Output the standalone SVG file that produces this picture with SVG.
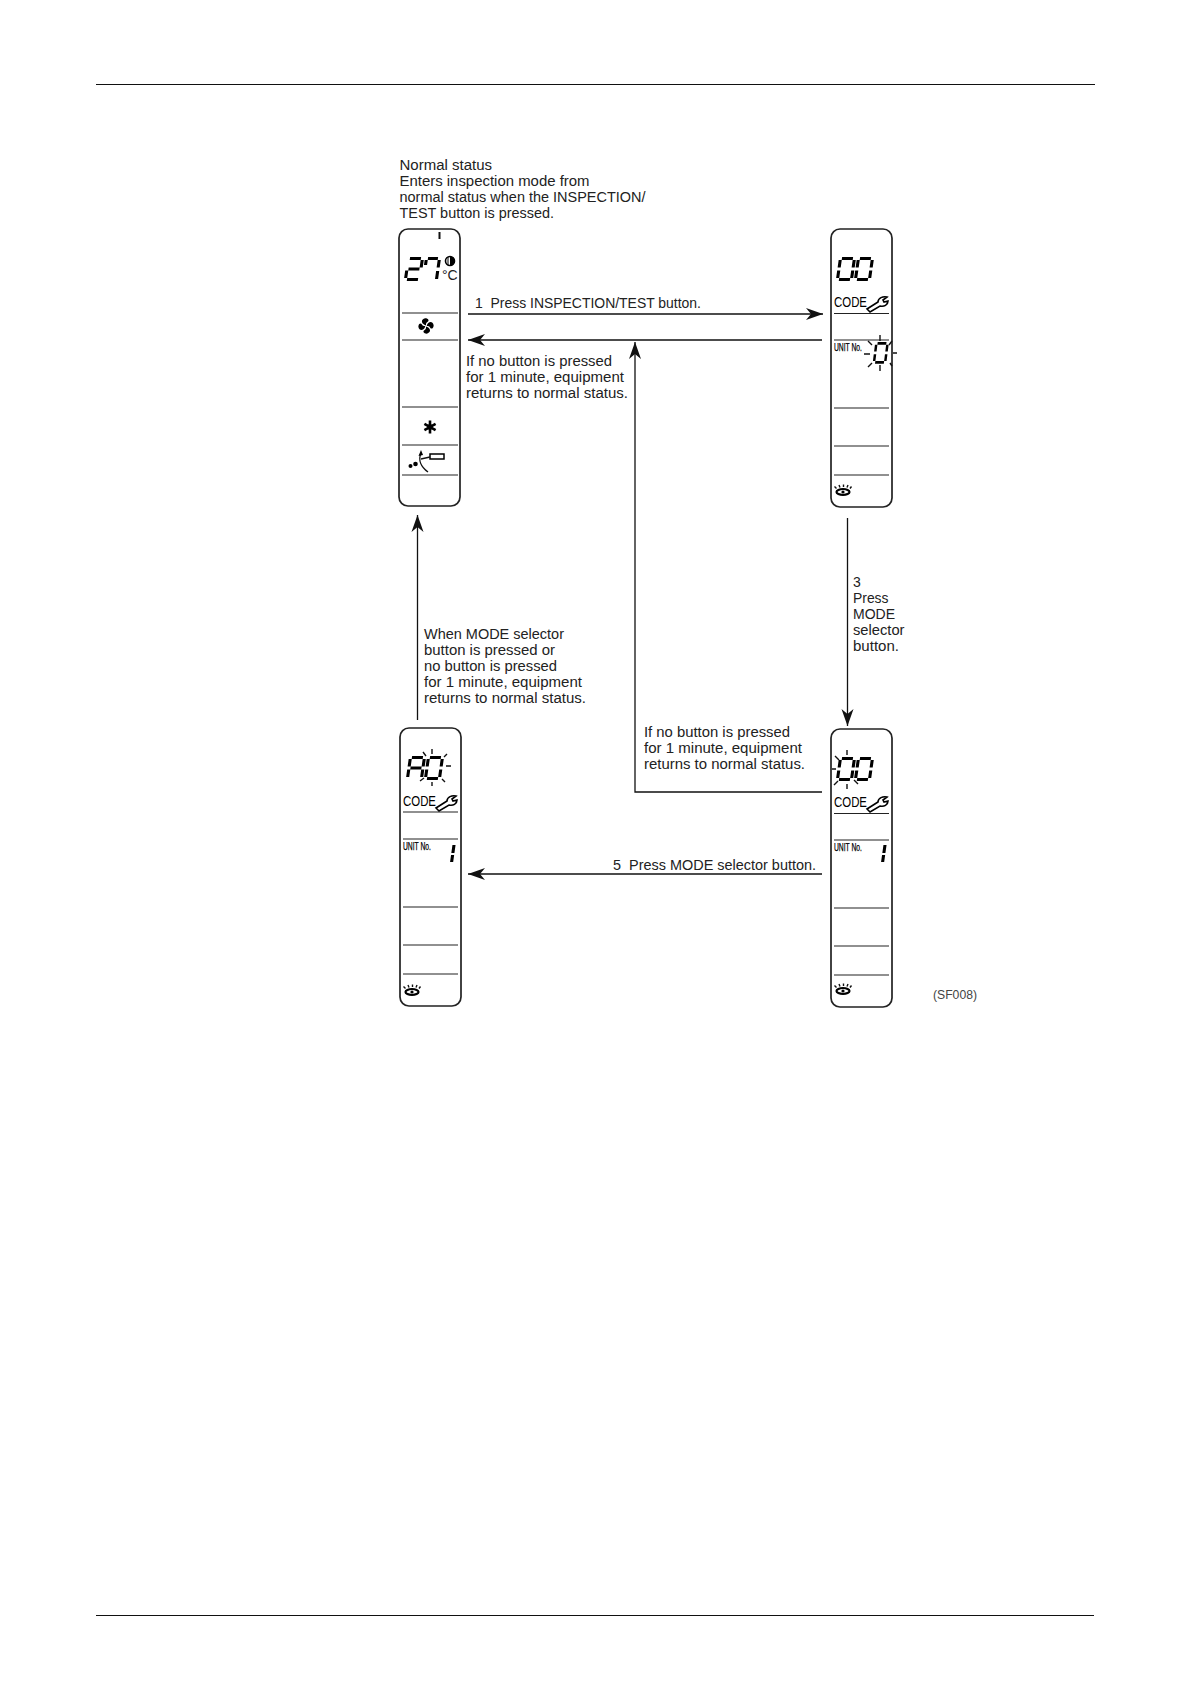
<svg xmlns="http://www.w3.org/2000/svg" xmlns:xlink="http://www.w3.org/1999/xlink" width="1190" height="1684" viewBox="0 0 1190 1684">
<style>
text{font-family:"Liberation Sans",Arial,sans-serif;font-size:14px;fill:#222}
.panel{fill:#fff;stroke:#222;stroke-width:1.7}
.div{stroke:#222;stroke-width:1.2;fill:none}
.conn{stroke:#111;stroke-width:1.3;fill:none}
.arrow{marker-end:url(#ah)}
.rule{stroke:#111;stroke-width:1.1}
.seg{stroke:#000;stroke-width:3.1;fill:none}
.ray{stroke:#111;stroke-width:1.4;fill:none}
.code{font-size:14.5px;fill:#000}
.unit{font-size:10px;fill:#000;stroke:#000;stroke-width:.25}
.ref{font-size:12.5px;fill:#444}
</style>
<defs>
<marker id="ah" markerUnits="userSpaceOnUse" markerWidth="20" markerHeight="14" refX="17" refY="6.500" orient="auto">
<path d="M0,0.500 L17,6.500 L0,12.500 L5,6.500 Z" fill="#111"/>
</marker>
<g id="d0" class="seg" transform="skewX(-8)">
<path d="M2,0.500H13M0.500,2V9.500M14.500,2V9.500M0.500,12.500V20M14.500,12.500V20M2,21.500H13"/>
</g>
<g id="wrench"><path d="M3,15 L0,12 L11,5 C11,1 16,-1 20,0 L16,3 L17,5 L21,4 C21,8 17,10 13,9 Z" fill="#fff" stroke="#000" stroke-width="1.600"/></g>
<g id="eye">
<ellipse cx="0" cy="0" rx="6.500" ry="3" fill="none" stroke="#000" stroke-width="2.200"/>
<circle cx="0" cy="0" r="1.600" fill="#000"/>
<path d="M-6.500,-3.500L-8.500,-5.500M-3,-4.500L-4,-7M0.500,-5V-7.500M4,-4.500L5,-7M7,-3.500L8.500,-5.500" class="ray" stroke-width="1"/>
</g>
<g id="one" class="seg" transform="skewX(-8)"><path d="M0,0V8M0,10V17"/></g>
</defs>

<line class="rule" x1="96" y1="84.500" x2="1095" y2="84.500"/>
<line class="rule" x1="96" y1="1615.500" x2="1094" y2="1615.500"/>

<g id="connectors">
<path class="conn arrow" d="M468,314H823"/>
<path class="conn arrow" d="M822,340H468"/>
<path class="conn arrow" d="M822,792H635V342"/>
<path class="conn arrow" d="M847.500,518V726"/>
<path class="conn arrow" d="M417.500,720V515"/>
<path class="conn arrow" d="M822,874H468"/>
</g>

<g id="panel-normal">
<rect class="panel" x="399" y="229" width="61" height="277" rx="9"/>
<path class="div" d="M402,313H458M402,340H458M402,407H458M402,445H458M402,475H458"/>
<path d="M439.500,232V239" stroke="#111" stroke-width="2"/>
<g class="seg" transform="translate(408,258) skewX(-8)"><path d="M2,0.500H13M14.500,2V9.500M2,11H13M0.500,12.500V20M2,21.500H13"/></g>
<g class="seg" transform="translate(426,258) skewX(-8)"><path d="M2,0.500H12M0.500,2V7M13.500,2V9.500M13.500,13V21"/></g>
<circle cx="450" cy="261" r="4.500" fill="none" stroke="#000" stroke-width="1.600"/>
<path d="M450,256.500A4.500,4.500 0 0 1 450,265.500Z" fill="#000"/>
<path d="M448,257V265" stroke="#000" stroke-width="1"/>
<text x="442" y="280" font-size="14">°C</text>
<g fill="#000" transform="translate(426,326) scale(.85)">
<path d="M-1,-1C-6,-3 -6,-8 -1,-9C3,-9 4,-6 2,-5C0,-4 0,-3 0,-1Z"/>
<path d="M-1,-1C-6,-3 -6,-8 -1,-9C3,-9 4,-6 2,-5C0,-4 0,-3 0,-1Z" transform="rotate(90)"/>
<path d="M-1,-1C-6,-3 -6,-8 -1,-9C3,-9 4,-6 2,-5C0,-4 0,-3 0,-1Z" transform="rotate(180)"/>
<path d="M-1,-1C-6,-3 -6,-8 -1,-9C3,-9 4,-6 2,-5C0,-4 0,-3 0,-1Z" transform="rotate(270)"/>
</g>
<g transform="translate(430,427)" stroke="#000" stroke-width="2.600" fill="none">
<path d="M0,-6.500V6.500M-5.600,-3.200L5.600,3.200M-5.600,3.200L5.600,-3.200"/>
<circle r="2.800" fill="#000" stroke="none"/>
</g>
<g id="swing">
<path d="M421,453C418,460 421,467 428,472" class="ray" stroke-width="1.300"/>
<path d="M421,450L418.500,456L423,455Z" fill="#000"/>
<rect x="430" y="454" width="14" height="5" fill="none" stroke="#000" stroke-width="1.500"/>
<path d="M430,457L421,459" class="ray" stroke-width="1"/>
<circle cx="410.500" cy="466" r="2" fill="#000"/><circle cx="415.500" cy="464" r="2.300" fill="#000"/>
</g>
</g>

<g id="panel-inspection">
<rect class="panel" x="831" y="229" width="61" height="278" rx="9"/>
<path class="div" d="M834,313.500H889M834,340H889M834,408H889M834,446H889M834,475H889"/>
<use href="#d0" x="840" y="258"/>
<use href="#d0" x="858" y="258"/>
<text class="code" x="834" y="307" textLength="33" lengthAdjust="spacingAndGlyphs">CODE</text>
<use href="#wrench" x="867" y="297"/>
<text class="unit" x="834" y="351" textLength="28" lengthAdjust="spacingAndGlyphs">UNIT No.</text>
<g transform="translate(876,343) scale(.8,.9)"><use href="#d0"/></g>
<path class="ray" d="M880,335V341M880,365V371M864,354H870M893,353H897M868,341L872,345M892,341L889,345M868,367L872,363M890,363L892,366"/>
<use href="#eye" x="843" y="492"/>
</g>

<g id="panel-code">
<rect class="panel" x="831" y="729" width="61" height="278" rx="9"/>
<path class="div" d="M834,813.500H889M834,840H889M834,908H889M834,946H889M834,975H889"/>
<use href="#d0" x="840" y="758"/>
<use href="#d0" x="858" y="758"/>
<path class="ray" d="M847,750V755M847,784V789M832,769H836M835,756L839,760M834,785L838,781M858,784L854,780"/>
<text class="code" x="834" y="807" textLength="33" lengthAdjust="spacingAndGlyphs">CODE</text>
<use href="#wrench" x="867" y="797"/>
<text class="unit" x="834" y="851" textLength="28" lengthAdjust="spacingAndGlyphs">UNIT No.</text>
<use href="#one" x="885" y="845"/>
<use href="#eye" x="843" y="991"/>
</g>

<g id="panel-error">
<rect class="panel" x="400" y="728" width="61" height="278" rx="9"/>
<path class="div" d="M403,812H458M403,839H458M403,907H458M403,945H458M403,974H458"/>
<g class="seg" transform="translate(410,757) skewX(-8)"><path d="M2,0.500H13M0.500,2V9.500M14.500,2V9.500M2,11H13M0.500,12.500V20M14.500,12.500V20"/></g>
<use href="#d0" x="428" y="757"/>
<path class="ray" d="M432,749V754M432,782V786M446,766H451M423,752L426,756M447,754L444,757M420,781L424,778M445,782L442,779"/>
<text class="code" x="403" y="806" textLength="33" lengthAdjust="spacingAndGlyphs">CODE</text>
<use href="#wrench" x="436" y="796"/>
<text class="unit" x="403" y="850" textLength="28" lengthAdjust="spacingAndGlyphs">UNIT No.</text>
<use href="#one" x="454" y="845"/>
<use href="#eye" x="412" y="992"/>
</g>

<g id="labels" font-size="14">
<text x="399.500" y="170" textLength="92.500" lengthAdjust="spacingAndGlyphs">Normal status</text>
<text x="399.500" y="186" textLength="190" lengthAdjust="spacingAndGlyphs">Enters inspection mode from</text>
<text x="399.500" y="202" textLength="246" lengthAdjust="spacingAndGlyphs">normal status when the INSPECTION/</text>
<text x="399.500" y="218" textLength="154.500" lengthAdjust="spacingAndGlyphs">TEST button is pressed.</text>
<text x="475" y="308" xml:space="preserve" textLength="226" lengthAdjust="spacingAndGlyphs">1  Press INSPECTION/TEST button.</text>
<text x="466" y="366" textLength="146" lengthAdjust="spacingAndGlyphs">If no button is pressed</text>
<text x="466" y="382" textLength="158" lengthAdjust="spacingAndGlyphs">for 1 minute, equipment</text>
<text x="466" y="398" textLength="162" lengthAdjust="spacingAndGlyphs">returns to normal status.</text>
<text x="424" y="639" textLength="140" lengthAdjust="spacingAndGlyphs">When MODE selector</text>
<text x="424" y="655" textLength="131" lengthAdjust="spacingAndGlyphs">button is pressed or</text>
<text x="424" y="671" textLength="133" lengthAdjust="spacingAndGlyphs">no button is pressed</text>
<text x="424" y="687" textLength="158" lengthAdjust="spacingAndGlyphs">for 1 minute, equipment</text>
<text x="424" y="703" textLength="162" lengthAdjust="spacingAndGlyphs">returns to normal status.</text>
<text x="853" y="587">3</text>
<text x="853" y="603" textLength="35.500" lengthAdjust="spacingAndGlyphs">Press</text>
<text x="853" y="619" textLength="42" lengthAdjust="spacingAndGlyphs">MODE</text>
<text x="853" y="635" textLength="51.500" lengthAdjust="spacingAndGlyphs">selector</text>
<text x="853" y="651" textLength="46" lengthAdjust="spacingAndGlyphs">button.</text>
<text x="644" y="737" textLength="146" lengthAdjust="spacingAndGlyphs">If no button is pressed</text>
<text x="644" y="753" textLength="158" lengthAdjust="spacingAndGlyphs">for 1 minute, equipment</text>
<text x="644" y="769" textLength="161" lengthAdjust="spacingAndGlyphs">returns to normal status.</text>
<text x="613" y="870" xml:space="preserve" textLength="203" lengthAdjust="spacingAndGlyphs">5  Press MODE selector button.</text>
<text class="ref" x="933" y="999" textLength="44" lengthAdjust="spacingAndGlyphs">(SF008)</text>
</g>
</svg>
